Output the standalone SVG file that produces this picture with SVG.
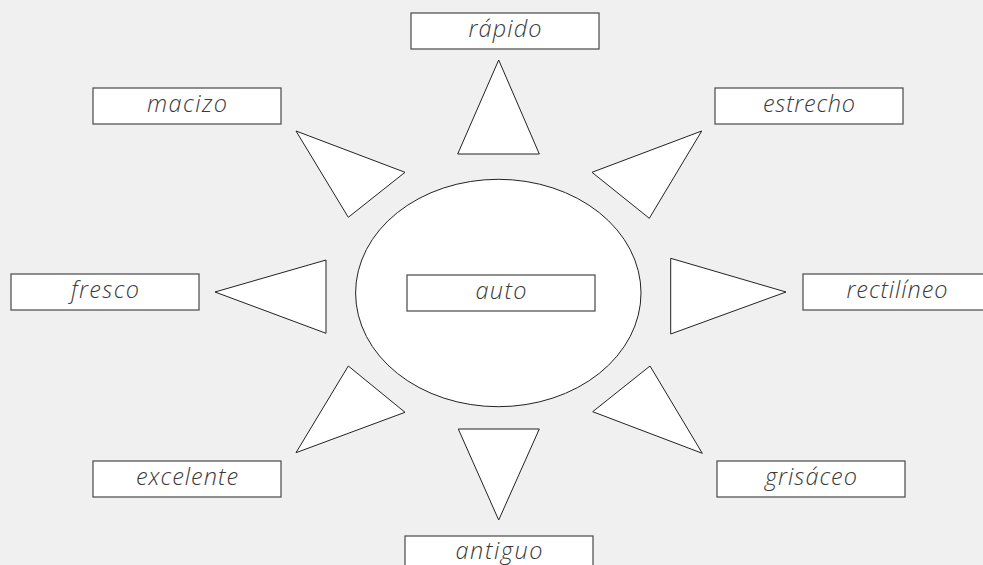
<svg xmlns="http://www.w3.org/2000/svg" width="983" height="565" viewBox="0 0 983 565">
<style>
.bg{fill:#f0f0f0}
.box{fill:#fff;stroke:#555;stroke-width:1.3}
.tri{fill:#fff;stroke:#222;stroke-width:1}
.lbl{font-family:"Open Sans","Noto Sans","DejaVu Sans",sans-serif;font-style:italic;font-weight:300;font-size:23.5px;fill:#3a3a3a;text-anchor:middle}
</style>
<rect class="bg" x="0" y="0" width="983" height="565"/>
<g id="center">
<ellipse class="tri" cx="498.3" cy="293" rx="142.7" ry="113.7"/>
<rect class="box" x="407" y="275" width="188" height="36"/>
<text class="lbl" x="501" y="299" textLength="51" lengthAdjust="spacing">auto</text>
</g>
<g id="connectors">
<polygon class="tri" points="498.7,60 457.7,154 539.3,154"/>
<polygon class="tri" points="296,131 405,172.3 348.3,217.3"/>
<polygon class="tri" points="701.7,131 592,172.3 649.3,218.3"/>
<polygon class="tri" points="215,292 326,260 326,333.3"/>
<polygon class="tri" points="786,292 670.7,258.3 670.7,334"/>
<polygon class="tri" points="348.3,366 405,412.3 296,452.7"/>
<polygon class="tri" points="650,366 592.7,411.7 702.3,453.3"/>
<polygon class="tri" points="458.3,429 539.3,429 498.7,520"/>
</g>
<g id="n-rapido">
<rect class="box" x="411" y="13" width="188" height="36"/>
<text class="lbl" x="505" y="37" textLength="73" lengthAdjust="spacing">rápido</text>
</g>
<g id="n-macizo">
<rect class="box" x="93" y="88" width="188" height="36"/>
<text class="lbl" x="187" y="112" textLength="80" lengthAdjust="spacing">macizo</text>
</g>
<g id="n-estrecho">
<rect class="box" x="715" y="88" width="188" height="36"/>
<text class="lbl" x="809" y="112" textLength="92" lengthAdjust="spacing">estrecho</text>
</g>
<g id="n-fresco">
<rect class="box" x="11" y="274" width="188" height="36"/>
<text class="lbl" x="105" y="298" textLength="68" lengthAdjust="spacing">fresco</text>
</g>
<g id="n-rectilineo">
<rect class="box" x="803" y="274" width="188" height="36"/>
<text class="lbl" x="897" y="298" textLength="101" lengthAdjust="spacing">rectilíneo</text>
</g>
<g id="n-excelente">
<rect class="box" x="93" y="461" width="188" height="36"/>
<text class="lbl" x="187" y="485" textLength="102" lengthAdjust="spacing">excelente</text>
</g>
<g id="n-grisaceo">
<rect class="box" x="717" y="461" width="188" height="36"/>
<text class="lbl" x="811" y="485" textLength="92" lengthAdjust="spacing">grisáceo</text>
</g>
<g id="n-antiguo">
<rect class="box" x="405" y="536" width="188" height="36"/>
<text class="lbl" x="499" y="559" textLength="87" lengthAdjust="spacing">antiguo</text>
</g>
</svg>
